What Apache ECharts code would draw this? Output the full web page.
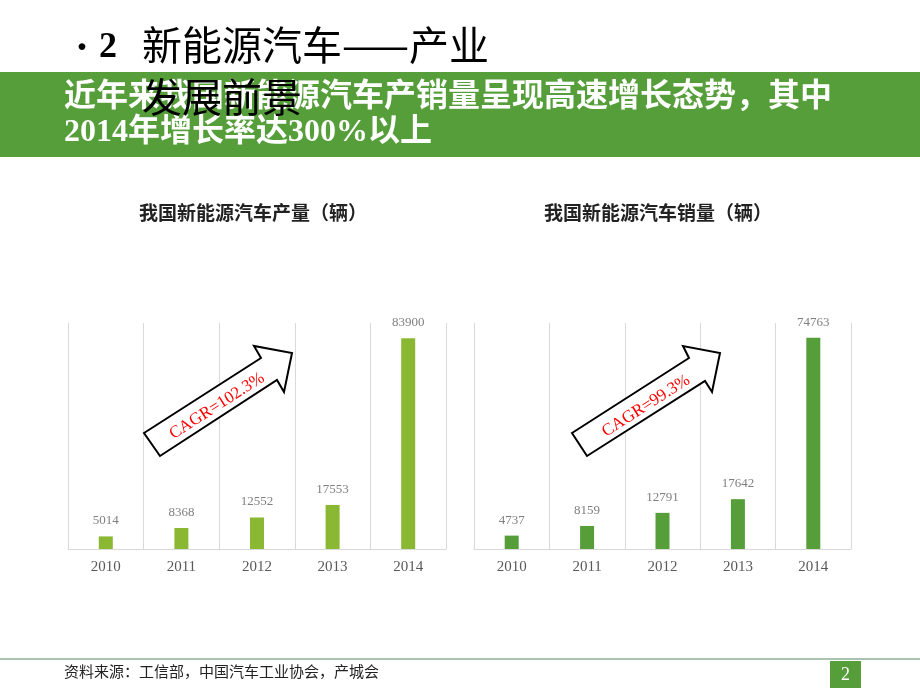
<!DOCTYPE html>
<html>
<head>
<meta charset="utf-8">
<script src="https://cdn.jsdelivr.net/npm/echarts@6/dist/echarts.min.js"></script>
<style>
html,body{margin:0;padding:0;background:#fff;}
#main{width:920px;height:690px;}
</style>
</head>
<body>
<div id="main"></div>
<script>
const years = ['2010', '2011', '2012', '2013', '2014'];
const production = [5014, 8368, 12552, 17553, 83900];
const sales = [4737, 8159, 12791, 17642, 74763];
const titleProduction = '我国新能源汽车产量（辆）';
const titleSales = '我国新能源汽车销量（辆）';
const cagrProduction = 'CAGR=102.3%';
const cagrSales = 'CAGR=99.3%';

const chart = echarts.init(document.getElementById('main'), null, {renderer: 'canvas'});
const CJK = '"Noto Sans CJK SC", sans-serif';
const SERIF = '"Liberation Serif", "DejaVu Serif", serif';
const MIX = '"Liberation Serif", "Noto Sans CJK SC", serif';

function xAxisCfg(gi) {
  return {
    type: 'category', gridIndex: gi, data: years,
    axisLine: {show: true, lineStyle: {color: '#D9D9D9', width: 1}},
    axisTick: {show: false},
    splitLine: {show: true, lineStyle: {color: '#D9D9D9', width: 1}},
    axisLabel: {color: '#595959', fontFamily: SERIF, fontSize: 15, margin: 11}
  };
}
function yAxisCfg(gi, max) {
  return {type: 'value', gridIndex: gi, min: 0, max: max, show: false, splitLine: {show: false}};
}
function seriesCfg(gi, data, color) {
  return {
    type: 'bar', xAxisIndex: gi, yAxisIndex: gi, data: data, barWidth: 14,
    itemStyle: {color: color},
    label: {show: true, position: 'top', distance: 9, color: '#7F7F7F', fontFamily: SERIF, fontSize: 13}
  };
}
function arrow(pts, z) {
  return {type: 'polygon', shape: {points: pts}, style: {fill: '#fff', stroke: '#000', lineWidth: 2}, z: z};
}
const ang = 32.7 * Math.PI / 180;

chart.setOption({
  animation: false,
  grid: [
    {left: 68, right: 474, top: 323, bottom: 141},
    {left: 474, right: 69, top: 323, bottom: 141}
  ],
  xAxis: [xAxisCfg(0), xAxisCfg(1)],
  yAxis: [yAxisCfg(0, 90000), yAxisCfg(1, 80000)],
  series: [seriesCfg(0, production, '#8AB833'), seriesCfg(1, sales, '#559E3A')],
  graphic: [
    {type: 'rect', shape: {x: 0, y: 72, width: 920, height: 85}, style: {fill: '#559E3A'}, z: 1},
    {type: 'text', left: 66, top: 31, style: {text: '•', font: '32px ' + CJK, fill: '#000'}, z: 2},
    {type: 'text', left: 99, top: 30, style: {text: '2', font: 'bold 36px ' + SERIF, fill: '#000'}, z: 2},
    {type: 'text', left: 142, top: 25, style: {text: '新能源汽车——产业', font: '40px ' + CJK, fill: '#000'}, z: 2},
    {type: 'text', left: 64, top: 82, style: {text: '近年来我国新能源汽车产销量呈现高速增长态势，其中', font: 'bold 32px ' + MIX, fill: '#fff'}, z: 3},
    {type: 'text', left: 64, top: 117, style: {text: '2014年增长率达300%以上', font: 'bold 32px ' + MIX, fill: '#fff'}, z: 3},
    {type: 'text', left: 142, top: 77, style: {text: '发展前景', font: '40px ' + CJK, fill: '#000'}, z: 4},
    {type: 'text', x: 253, y: 213, style: {text: titleProduction, font: 'bold 19px ' + CJK, fill: '#222', align: 'center', verticalAlign: 'middle'}, z: 2},
    {type: 'text', x: 658, y: 213, style: {text: titleSales, font: 'bold 19px ' + CJK, fill: '#222', align: 'center', verticalAlign: 'middle'}, z: 2},
    arrow([[144,433],[261,358],[254,346],[292,353],[284,392],[277,380],[160,456]], 10),
    {type: 'text', x: 217, y: 406, rotation: ang,
      style: {text: cagrProduction, font: '17px ' + SERIF, fill: '#FF0000', align: 'center', verticalAlign: 'middle'}, z: 11},
    arrow([[572,433],[689,358],[683,346],[720,353],[712,392],[705,381],[587,456]], 10),
    {type: 'text', x: 646, y: 406, rotation: ang,
      style: {text: cagrSales, font: '17px ' + SERIF, fill: '#FF0000', align: 'center', verticalAlign: 'middle'}, z: 11},
    {type: 'rect', shape: {x: 0, y: 658, width: 920, height: 2}, style: {fill: '#A9C2B2'}, z: 2},
    {type: 'text', left: 64, top: 664, style: {text: '资料来源：工信部，中国汽车工业协会，产城会', font: '15px ' + CJK, fill: '#222'}, z: 2},
    {type: 'rect', shape: {x: 830, y: 661, width: 31, height: 27}, style: {fill: '#559E3A'}, z: 2},
    {type: 'text', x: 845.5, y: 675, style: {text: '2', font: '18px ' + SERIF, fill: '#fff', align: 'center', verticalAlign: 'middle'}, z: 3}
  ]
});
</script>
</body>
</html>
